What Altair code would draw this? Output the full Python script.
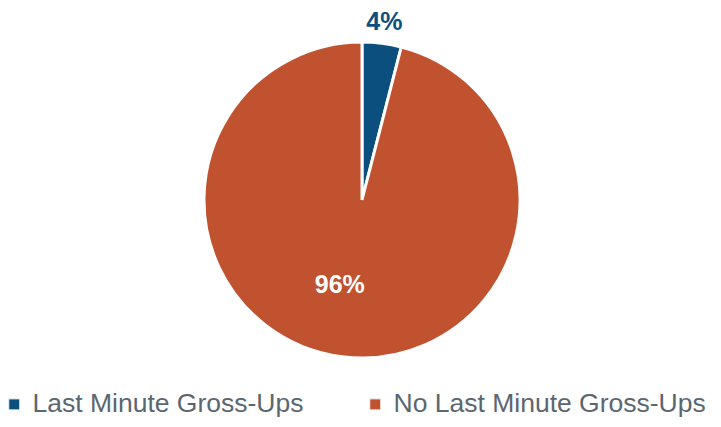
import altair as alt
import pandas as pd

categories = ["Last Minute Gross-Ups", "No Last Minute Gross-Ups"]
values = [4, 96]
labels = ["4%", "96%"]
colors = ["#0B4F7F", "#C0522F"]

df = pd.DataFrame({"category": categories, "value": values, "label": labels, "order": [0, 1]})

CX, CY = 354, 192

base = alt.Chart(df).encode(
    theta=alt.Theta("value:Q", stack=True),
    order=alt.Order("order:Q"),
)

color = alt.Color(
    "category:N",
    scale=alt.Scale(domain=categories, range=colors),
    legend=alt.Legend(
        title=None,
        orient="none",
        legendX=-7,
        legendY=383,
        direction="horizontal",
        columns=2,
        symbolType="square",
        symbolSize=121,
        symbolStrokeColor="#f0f0f0",
        symbolStrokeWidth=1,
        labelFontSize=26.5,
        labelFont="Liberation Sans",
        labelColor="#5B6770",
        labelLimit=400,
        columnPadding=58,
        symbolOffset=0,
        labelOffset=5,
    ),
)

pie = base.mark_arc(outerRadius=158, stroke="white", strokeWidth=3).encode(
    color=color,
    x=alt.value(CX), y=alt.value(CY),
)

lbl_small = base.mark_text(
    radius=179, font="Liberation Sans", fontSize=25, fontWeight="bold", color="#0B4F7F"
).encode(
    text="label:N", x=alt.value(CX), y=alt.value(CY),
    opacity=alt.condition(alt.datum.category == categories[0], alt.value(1), alt.value(0)),
)

lbl_big = base.mark_text(
    radius=88, thetaOffset=0.13, font="Liberation Sans", fontSize=25, fontWeight="bold", color="white"
).encode(
    text="label:N", x=alt.value(CX), y=alt.value(CY),
    opacity=alt.condition(alt.datum.category == categories[1], alt.value(1), alt.value(0)),
)

chart = alt.layer(pie, lbl_small, lbl_big).properties(
    width=705, height=411, padding=0, autosize=alt.AutoSizeParams(type="none")
).configure_view(stroke=None)

chart.save("out.html", embed_options={"renderer": "svg", "actions": False})
